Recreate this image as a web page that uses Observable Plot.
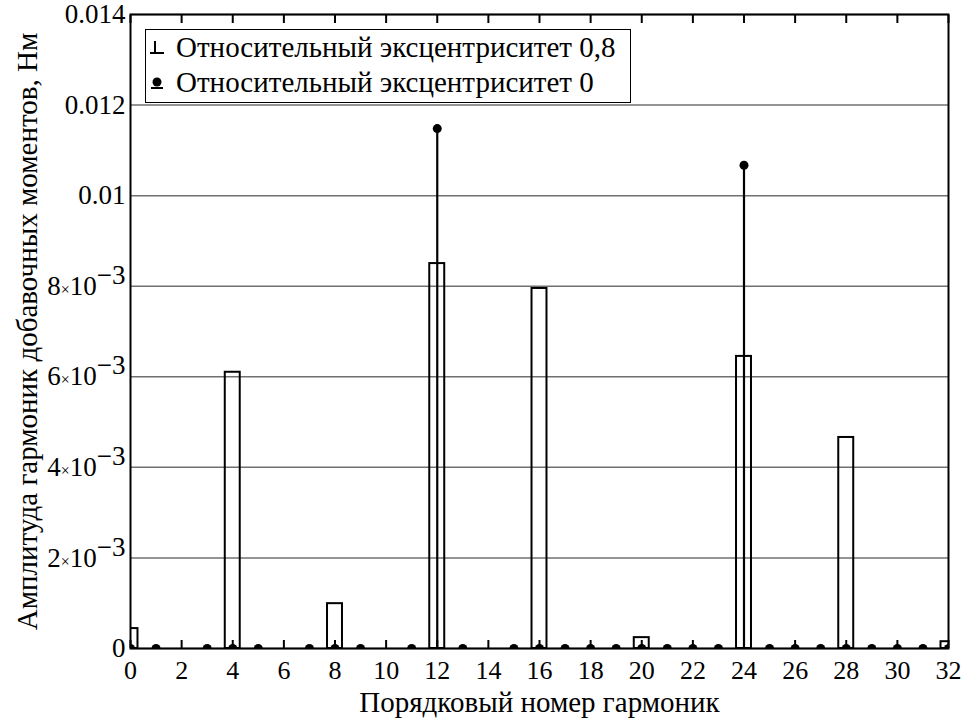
<!DOCTYPE html>
<html>
<head>
<meta charset="utf-8">
<script src="https://cdn.jsdelivr.net/npm/d3@7"></script>
<script src="https://cdn.jsdelivr.net/npm/@observablehq/plot@0.6"></script>
<style>
body { margin: 0; background: white; }
</style>
</head>
<body>
<div id="wrap" style="position: relative; width: 977px; height: 720px;">
  <div id="chart"></div>
  <div id="legend" style="position: absolute; left: 145px; top: 29px; width: 486px; height: 74px; border: 1.5px solid black; background: white; box-sizing: border-box;">
    <svg width="20" height="20" style="position: absolute; left: 3px; top: 8px;"><line x1="6" y1="3" x2="6" y2="15" stroke="black" stroke-width="2"/><line x1="1" y1="15" x2="15" y2="15" stroke="black" stroke-width="2"/></svg>
    <div style="position: absolute; left: 30px; top: 1px; font-family: 'Liberation Serif', 'Times New Roman', serif; font-size: 29px; white-space: nowrap;">Относительный эксцентриситет 0,8</div>
    <svg width="20" height="20" style="position: absolute; left: 3px; top: 43px;"><circle cx="8" cy="9" r="4.5" fill="black"/><line x1="2" y1="15" x2="14" y2="15" stroke="black" stroke-width="2"/></svg>
    <div style="position: absolute; left: 30px; top: 36px; font-family: 'Liberation Serif', 'Times New Roman', serif; font-size: 29px; white-space: nowrap;">Относительный эксцентриситет 0</div>
  </div>
</div>
<script>
// Relative eccentricity 0.8 (bars)
const harmonicsA = [0, 4, 8, 12, 16, 20, 24, 28, 32];
const amplitudeA = [0.00044, 0.0061, 0.00099, 0.0085, 0.00795, 0.00024, 0.00645, 0.00466, 0.00015];
// Relative eccentricity 0 (stems with dots)
const harmonicsB = [0, 1, 3, 4, 5, 7, 8, 9, 11, 12, 13, 15, 16, 17, 18, 19, 20, 21, 22, 23, 24, 25, 26, 27, 28, 29, 30, 31, 32];
const amplitudeB = [0, 0, 0, 0, 0, 0, 0, 0, 0, 0.01148, 0, 0, 0, 0, 0, 0, 0, 0, 0, 0, 0.01067, 0, 0, 0, 0, 0, 0, 0, 0];
// Axis ticks
const xTicks = [0, 2, 4, 6, 8, 10, 12, 14, 16, 18, 20, 22, 24, 26, 28, 30, 32];
const yTicks = [0, 0.002, 0.004, 0.006, 0.008, 0.01, 0.012, 0.014];
const xLabel = "Порядковый номер гармоник";
const yLabel = "Амплитуда гармоник добавочных моментов, Нм";

const barData = harmonicsA.map((h, i) => ({h, v: amplitudeA[i]}));
const stemData = harmonicsB.map((h, i) => ({h, v: amplitudeB[i]}));

const yFmt = v => v === 0 ? "0" : v >= 0.0099 ? String(+v.toFixed(3)) : `${Math.round(v * 1000)}×10^−3`;

const chart = Plot.plot({
  width: 977,
  height: 720,
  marginLeft: 130,
  marginRight: 29,
  marginTop: 14,
  marginBottom: 72,
  x: {domain: [0, 32]},
  y: {domain: [0, 0.014]},
  style: {fontFamily: "'Liberation Serif', 'Times New Roman', serif", fontSize: "27px"},
  marks: [
    Plot.gridY(yTicks, {stroke: "#707070", strokeOpacity: 1, strokeWidth: 1.5}),
    Plot.rect(barData, {x1: d => d.h - 0.5, x2: d => d.h + 0.5, y1: 0, y2: "v", insetLeft: 5.3, insetRight: 5.3, fill: "none", stroke: "black", strokeWidth: 2, clip: true}),
    Plot.ruleX(stemData, {x: "h", y1: 0, y2: "v", stroke: "black", strokeWidth: 2.2}),
    Plot.dot(stemData, {x: "h", y: "v", r: 4.5, fill: "black", stroke: null, clip: true}),
    Plot.axisX(xTicks, {anchor: "bottom", tickSize: -8, tickPadding: 20, strokeWidth: 2, fontSize: 26, label: null}),
    Plot.axisX(xTicks, {anchor: "top", tickSize: -8, strokeWidth: 2, tickFormat: () => "", label: null}),
    Plot.axisY(yTicks, {anchor: "left", tickSize: 0, tickPadding: 5, tickFormat: yFmt, label: null}),
    Plot.frame({stroke: "black", strokeWidth: 2}),
    Plot.text([xLabel], {frameAnchor: "bottom", textAnchor: "middle", lineAnchor: "middle", dy: 54, fontSize: 29}),
    Plot.text([yLabel], {frameAnchor: "left", textAnchor: "middle", lineAnchor: "middle", dx: -103, rotate: -90, fontSize: 29})
  ]
});
document.getElementById("chart").appendChild(chart);

// Format scientific tick labels with superscripts
chart.querySelectorAll('g[aria-label="y-axis tick label"] text').forEach(t => {
  const s = t.textContent;
  const m = s.match(/^(\d+)×10\^(.+)$/);
  if (m) {
    const ns = "http://www.w3.org/2000/svg";
    while (t.firstChild) t.removeChild(t.firstChild);
    const a = document.createElementNS(ns, "tspan"); a.textContent = m[1]; t.appendChild(a);
    const b = document.createElementNS(ns, "tspan"); b.textContent = "×"; b.setAttribute("font-size", "16"); t.appendChild(b);
    const c = document.createElementNS(ns, "tspan"); c.textContent = "10"; t.appendChild(c);
    const d = document.createElementNS(ns, "tspan"); d.textContent = m[2]; d.setAttribute("dy", "-11"); t.appendChild(d);
  }
});
</script>
</body>
</html>
